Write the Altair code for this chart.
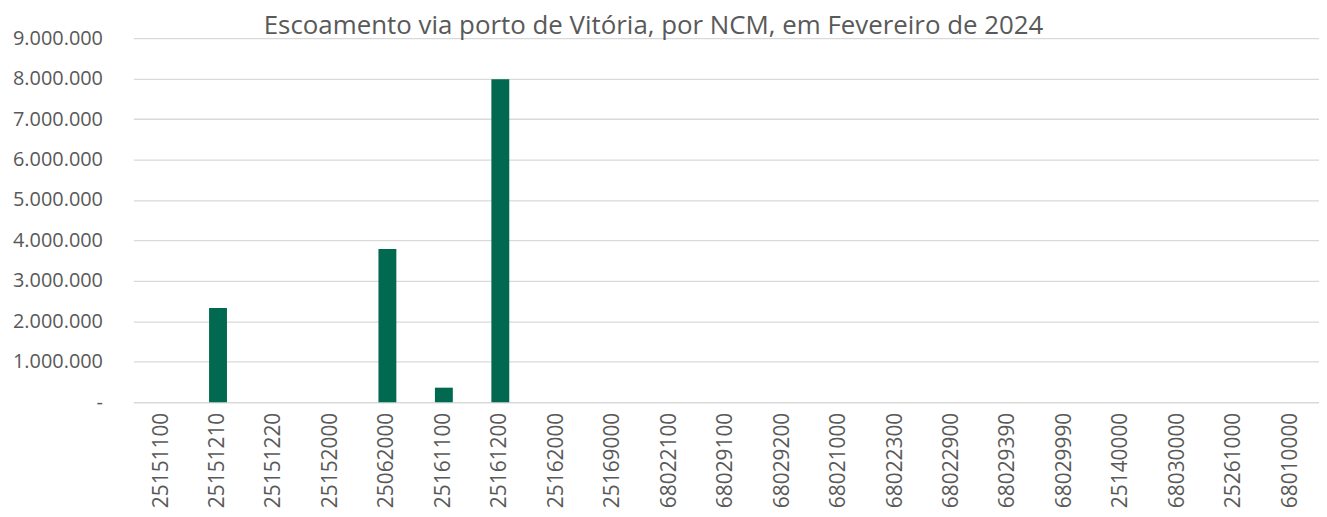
import altair as alt
import pandas as pd

categories = ["25151100", "25151210", "25151220", "25152000", "25062000", "25161100",
              "25161200", "25162000", "25169000", "68022100", "68029100", "68029200",
              "68021000", "68022300", "68022900", "68029390", "68029990", "25140000",
              "68030000", "25261000", "68010000"]
values = [0, 2330000, 0, 0, 3790000, 360000,
          7985000, 0, 0, 0, 0, 0,
          0, 0, 0, 0, 0, 0,
          0, 0, 0]

title_text = "Escoamento via porto de Vitória, por NCM, em Fevereiro de 2024"
y_ticks = [0, 1000000, 2000000, 3000000, 4000000, 5000000, 6000000, 7000000, 8000000, 9000000]

df = pd.DataFrame({"ncm": categories, "valor": values})

FONT = "Open Sans"
TXT = "#595959"

chart = alt.Chart(df).mark_bar(size=18, color="#00694F").encode(
    x=alt.X("ncm:N", sort=categories, title=None,
            scale=alt.Scale(paddingInner=0, paddingOuter=0),
            axis=alt.Axis(labelAngle=270, labelFont=FONT, labelFontSize=21,
                          labelColor=TXT, ticks=False, domain=False,
                          labelPadding=10, grid=False)),
    y=alt.Y("valor:Q", title=None,
            scale=alt.Scale(domain=[0, 9000000], nice=False),
            axis=alt.Axis(values=y_ticks, labelFont=FONT, labelFontSize=20,
                          labelColor=TXT, ticks=False, domain=False,
                          labelPadding=31, gridColor="#d9d9d9", gridWidth=1.3,
                          labelExpr="datum.value === 0 ? '-\u00a0\u00a0' : replace(format(datum.value, ',d'), regexp(',', 'g'), '.')")),
).properties(
    width=1192,
    height=366,
    title=alt.TitleParams(text=title_text, font=FONT, fontSize=26, fontWeight="normal",
                          color=TXT, anchor="middle", dx=-73, dy=13, offset=2),
    autosize=alt.AutoSizeParams(type="none"),
    padding={"left": 126, "top": 29, "right": 0, "bottom": 108},
).configure_view(stroke=None)

chart.save("out.html", embed_options={"renderer": "svg", "actions": False})
